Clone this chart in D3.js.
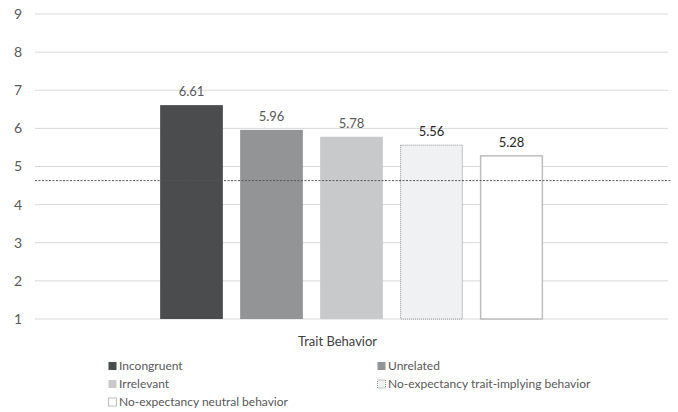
<!DOCTYPE html>
<html>
<head>
<meta charset="utf-8">
<script src="https://cdn.jsdelivr.net/npm/d3@7"></script>
<style>
  html, body { margin: 0; padding: 0; background: #fff; }
  svg { display: block; font-family: Lato, "Open Sans", sans-serif; }
</style>
</head>
<body>
<svg id="chart" width="678" height="412"></svg>
<script>
// Mean ratings per behavior type, one category on the x axis
const categories = ["Trait Behavior"];
const seriesNames = [
  "Incongruent",
  "Unrelated",
  "Irrelevant",
  "No-expectancy trait-implying behavior",
  "No-expectancy neutral behavior"
];
const seriesValues = [6.61, 5.96, 5.78, 5.56, 5.28];
const referenceValue = 4.63;
const yTicks = [1, 2, 3, 4, 5, 6, 7, 8, 9];

// Visual style for each series
const fills   = ["#4b4c4e", "#939496", "#c8c9ca", "#f0f1f3", "#ffffff"];
const strokes = ["none", "none", "none", "#8e8e8e", "#bdbdbd"];
const dashes  = [null, null, null, "1,1", null];
const labelColors = ["#595959", "#595959", "#595959", "#262626", "#262626"];

const svg = d3.select("#chart");
const plot = { left: 35, right: 668, top: 14, bottom: 319 };

const y = d3.scaleLinear().domain([1, 9]).range([plot.bottom, plot.top]);
const x0 = d3.scaleBand().domain(categories).range([plot.left, plot.right])
  .paddingInner(0).paddingOuter(0.327);
const x1 = d3.scaleBand().domain(seriesNames).range([0, x0.bandwidth()])
  .paddingInner(0.216).paddingOuter(0);

// Horizontal gridlines and tick labels
const yAxis = d3.axisLeft(y).tickValues(yTicks).tickSize(0).tickPadding(13)
  .tickFormat(d3.format("d"));
const gy = svg.append("g").attr("transform", `translate(${plot.left},0)`).call(yAxis);
gy.select(".domain").remove();
gy.selectAll("text").attr("fill", "#595959").style("font-size", "14px")
  .style("font-family", "Lato, sans-serif");
svg.append("g").selectAll("line").data(yTicks).join("line")
  .attr("x1", plot.left).attr("x2", plot.right)
  .attr("y1", d => y(d)).attr("y2", d => y(d))
  .attr("stroke", "#d9d9d9").attr("stroke-width", 1);

// Bars
const barG = svg.append("g")
  .attr("transform", `translate(${x0(categories[0])},0)`);
const data = seriesNames.map((name, i) => ({ name, value: seriesValues[i], i }));
barG.selectAll("rect").data(data).join("rect")
  .attr("x", d => x1(d.name) + (strokes[d.i] !== "none" ? 0.5 : 0))
  .attr("y", d => y(d.value))
  .attr("width", d => x1.bandwidth() - (strokes[d.i] !== "none" ? 1 : 0))
  .attr("height", d => y(1) - y(d.value))
  .attr("fill", d => fills[d.i])
  .attr("stroke", d => strokes[d.i])
  .attr("stroke-width", d => d.i === 4 ? 1.5 : 1)
  .attr("stroke-dasharray", d => dashes[d.i]);

// Value labels
barG.selectAll("text.val").data(data).join("text")
  .attr("class", "val")
  .attr("x", d => x1(d.name) + x1.bandwidth() / 2)
  .attr("y", d => y(d.value) - 9)
  .attr("text-anchor", "middle")
  .attr("fill", d => labelColors[d.i])
  .style("font-size", "13px")
  .text(d => d.value.toFixed(2));

// Dashed reference line
svg.append("line")
  .attr("x1", plot.left).attr("x2", 672)
  .attr("y1", y(referenceValue)).attr("y2", y(referenceValue))
  .attr("stroke", "#555555").attr("stroke-width", 1)
  .attr("stroke-dasharray", "2,1.5");

// Category label
svg.append("text")
  .attr("x", 337.5).attr("y", 346)
  .attr("text-anchor", "middle")
  .attr("fill", "#404040")
  .style("font-size", "13px")
  .text(categories[0]);

// Legend in two columns
const legendCols = [108, 377];
const legendRows = [366, 384, 402];
const legend = svg.append("g").selectAll("g").data(data).join("g")
  .attr("transform", d => `translate(${legendCols[d.i % 2]},${legendRows[Math.floor(d.i / 2)]})`);
legend.append("rect")
  .attr("x", 0.5).attr("y", -4).attr("width", 8).attr("height", 8)
  .attr("fill", d => fills[d.i])
  .attr("stroke", d => strokes[d.i] === "none" ? null : strokes[d.i])
  .attr("stroke-dasharray", d => dashes[d.i]);
legend.append("text")
  .attr("x", 11).attr("y", 0).attr("dy", "0.35em")
  .attr("fill", "#595959")
  .style("font-size", "12px")
  .text(d => d.name);
</script>
</body>
</html>
